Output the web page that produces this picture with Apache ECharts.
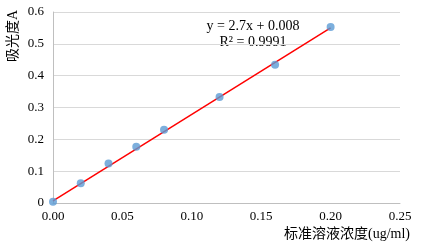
<!DOCTYPE html>
<html><head><meta charset="utf-8">
<script src="https://cdn.jsdelivr.net/npm/echarts@6/dist/echarts.min.js"></script>
<style>html,body{margin:0;padding:0;background:#fff}#c{width:426px;height:247px}</style>
</head><body><div id="c"></div>
<script>
const concentrations = [0, 0.02, 0.04, 0.06, 0.08, 0.12, 0.16, 0.20];
const absorbance = [0.004, 0.062, 0.124, 0.177, 0.230, 0.333, 0.434, 0.553];
const trendX = [0, 0.20];
const trendY = [0.007, 0.550];
const equationText = 'y = 2.7x + 0.008';
const r2Text = 'R² = 0.9991';
const xTitle = '标准溶液浓度(ug/ml)';
const yTitle = '吸光度A';

const font = '"Liberation Serif", "Noto Sans CJK SC", serif';
const chart = echarts.init(document.getElementById('c'), null, {renderer: 'canvas'});
chart.setOption({
  animation: false,
  grid: {left: 53, right: 26, top: 12, bottom: 44, containLabel: false},
  xAxis: {
    type: 'value', min: 0, max: 0.25, interval: 0.05,
    axisLine: {show: true, lineStyle: {color: '#bfbfbf'}},
    axisTick: {show: false},
    splitLine: {show: false},
    axisLabel: {color: '#000', fontFamily: font, fontSize: 13, margin: 7,
      formatter: v => v.toFixed(2)},
    name: xTitle, nameLocation: 'end', nameGap: 10,
    nameTextStyle: {color: '#000', fontFamily: font, fontSize: 14, align: 'right', verticalAlign: 'top', padding: [24, 0, 0, 0]}
  },
  yAxis: {
    type: 'value', min: 0, max: 0.6, interval: 0.1,
    axisLine: {show: true, lineStyle: {color: '#bfbfbf'}},
    axisTick: {show: false},
    splitLine: {show: true, lineStyle: {color: '#d9d9d9'}},
    axisLabel: {color: '#000', fontFamily: font, fontSize: 13, margin: 9,
      formatter: v => v === 0 ? '0' : String(+v.toFixed(1))}
  },
  graphic: [
    {type: 'text', rotation: Math.PI / 2, originX: 0, originY: 0,
      style: {text: yTitle, font: '14px ' + font, fill: '#000'}, x: 6, y: 62},
    {type: 'text', x: 253, y: 26, style: {text: equationText, font: '14px ' + font, fill: '#000', align: 'center', verticalAlign: 'middle'}},
    {type: 'text', x: 253, y: 42, style: {text: r2Text, font: '14px ' + font, fill: '#000', align: 'center', verticalAlign: 'middle'}}
  ],
  series: [
    {type: 'line', data: trendX.map((x, i) => [x, trendY[i]]), symbol: 'none',
      lineStyle: {color: '#ff0000', width: 1.5}, z: 3},
    {type: 'scatter', data: concentrations.map((x, i) => [x, absorbance[i]]),
      symbolSize: 8, itemStyle: {color: '#5b9bd5'}, z: 4}
  ]
});
</script></body></html>
